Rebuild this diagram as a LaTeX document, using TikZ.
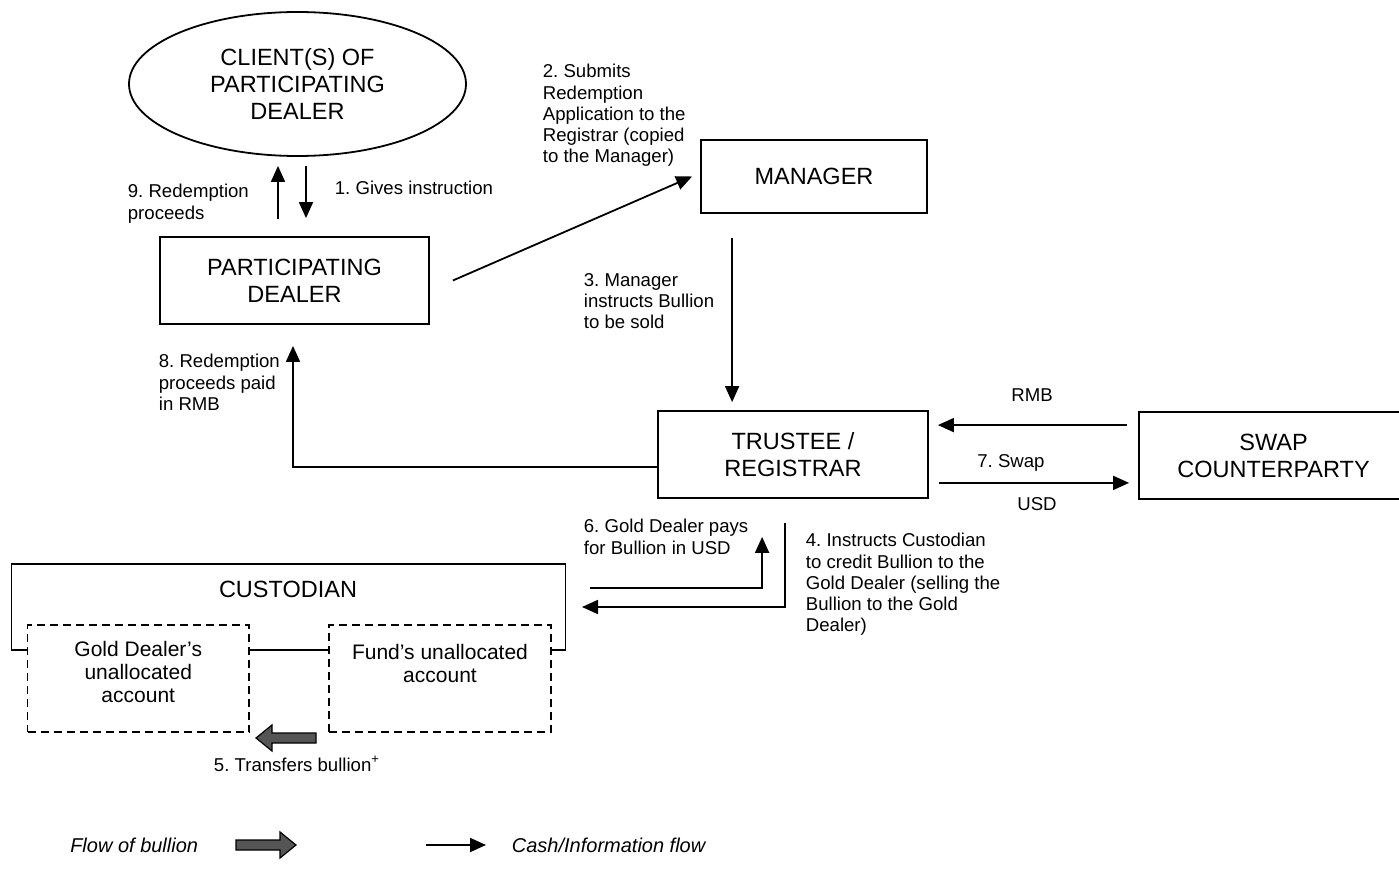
\documentclass[tikz,border=0pt]{standalone}
\usepackage{fontspec}
\setmainfont{Liberation Sans}
\usetikzlibrary{arrows.meta,shapes.geometric,calc}
\newcommand{\bigtxt}{\fontsize{11.75}{13.5}\selectfont}
\newcommand{\acctxt}{\fontsize{10.5}{11.5}\selectfont}
\newcommand{\smalltxt}{\fontsize{9.3}{10.6}\selectfont}
\newcommand{\keytxt}{\fontsize{10}{11}\selectfont\itshape}
\definecolor{bulliongray}{HTML}{555555}
\frenchspacing
\begin{document}
\begin{tikzpicture}[x=0.5pt,y=-0.5pt,line width=0.9pt,
  box/.style={draw,align=center,font=\bigtxt},
  acct/.style={draw,dash pattern=on 4pt off 2.5pt,minimum height=53.5pt},
  lbl/.style={align=left,anchor=north west,inner sep=0pt,font=\smalltxt},
  arr/.style={-{Triangle[length=8pt,width=7pt]}},
  bullion/.pic={\draw[fill=bulliongray,line width=0.6pt] (-30,-5) -- (14,-5) -- (14,-13) -- (30,0) -- (14,13) -- (14,5) -- (-30,5) -- cycle;}]
\useasboundingbox (0,0) rectangle (1399,883);
\node[ellipse,draw,minimum width=168.5pt,minimum height=72pt,inner sep=0pt,align=center,font=\bigtxt] (cl) at (297.5,84) {CLIENT(S) OF\\PARTICIPATING\\DEALER};
\node[box,minimum width=134.5pt,minimum height=43.5pt] (pd) at (294.5,280.5) {PARTICIPATING\\DEALER};
\node[box,minimum width=113pt,minimum height=36.5pt] (mgr) at (814,176.5) {MANAGER};
\node[box,minimum width=135pt,minimum height=43.5pt] (tr) at (793,454.5) {TRUSTEE /\\REGISTRAR};
\node[box,minimum width=134.5pt,minimum height=43.5pt] (sw) at (1273.5,455.5) {SWAP\\COUNTERPARTY};
\node[acct,minimum width=110.75pt] (gd) at (138.25,678.5) {};
\node[acct,minimum width=111pt] (fd) at (440,678.5) {};
\node[font=\acctxt,align=center,anchor=north,inner sep=0pt] (gdtxt) at ($(gd.north)+(0,16)$) {Gold Dealer’s\\unallocated\\account};
\node[font=\acctxt,align=center,anchor=north,inner sep=0pt] (fdtxt) at ($(fd.north)+(0,19)$) {Fund’s unallocated\\account};
\node[font=\bigtxt,anchor=base] (cust) at (288,597) {CUSTODIAN};
\draw ($(gd.north west)+(0,26)$) -| (11.5,564) -| ($(fd.north east)+(13.5,26)$) -- ($(fd.north east)+(0,26)$);
\draw ($(gd.north east)+(0,26)$) -- ($(fd.north west)+(0,26)$);
\draw[arr] ($(pd.north)+(-16.5,-17)$) -- ($(pd.north |- cl.south)+(-16.5,9)$);
\draw[arr] ($(pd.north |- cl.south)+(11.5,9)$) -- ($(pd.north)+(11.5,-18)$);
\node[lbl] (l9) at (127,183.5) {9. Redemption\\proceeds};
\node[lbl] (l1) at (334,180.5) {1. Gives instruction};
\draw[arr] ($(pd.east)+(23,0)$) -- ([xshift=-4pt]mgr.west);
\node[lbl] (l2) at (542,63.5) {2. Submits\\Redemption\\Application to the\\Registrar (copied\\to the Manager)};
\draw[arr] ($(mgr.south west)+(32,24)$) -- ($(mgr.south west |- tr.north)+(32,-8)$);
\node[lbl] (l3) at (583,272.5) {3. Manager\\instructs Bullion\\to be sold};
\draw[arr] ($(tr.west)+(0,12.5)$) -| ($(pd.south)+(-1.5,21)$);
\node[lbl] (l8) at (158,353.5) {8. Redemption\\proceeds paid\\in RMB};
\draw[arr] ($(sw.north west)+(-11,14)$) -- ($(tr.north east)+(9,15)$);
\node[font=\smalltxt,anchor=base] (rmb) at (1032,401) {RMB};
\draw[arr] ($(tr.south east)+(10,-16)$) -- ($(sw.south west)+(-9,-17)$);
\node[font=\smalltxt,anchor=base] (l7) at (1011,467) {7. Swap};
\node[font=\smalltxt,anchor=base] (usd) at (1037,510) {USD};
\coordinate (c4) at (582,607);
\coordinate (c6) at (590,588);
\draw[arr] ($(tr.south west)+(128,24)$) |- (c4);
\draw[arr] (c6) -| ($(tr.south west)+(105,38)$);
\node[lbl] (l6) at (583,518.5) {6. Gold Dealer pays\\for Bullion in USD};
\node[lbl] (l4) at (805,532.5) {4. Instructs Custodian\\to credit Bullion to the\\Gold Dealer (selling the\\Bullion to the Gold\\Dealer)};
\pic[rotate=180] at (286,738) {bullion};
\node[font=\smalltxt,anchor=base] (l5) at (297,771) {5. Transfers bullion\textsuperscript{+}};
\node[font=\keytxt,anchor=east,inner sep=0pt] (lgb) at (199,845) {Flow of bullion};
\pic at (266,845) {bullion};
\node[font=\keytxt,anchor=west,inner sep=0pt] (lgc) at (511,845) {Cash/Information flow};
\draw[arr] ($(lgc.west)+(-85,0)$) -- ($(lgc.west)+(-25,0)$);
\end{tikzpicture}
\end{document}
